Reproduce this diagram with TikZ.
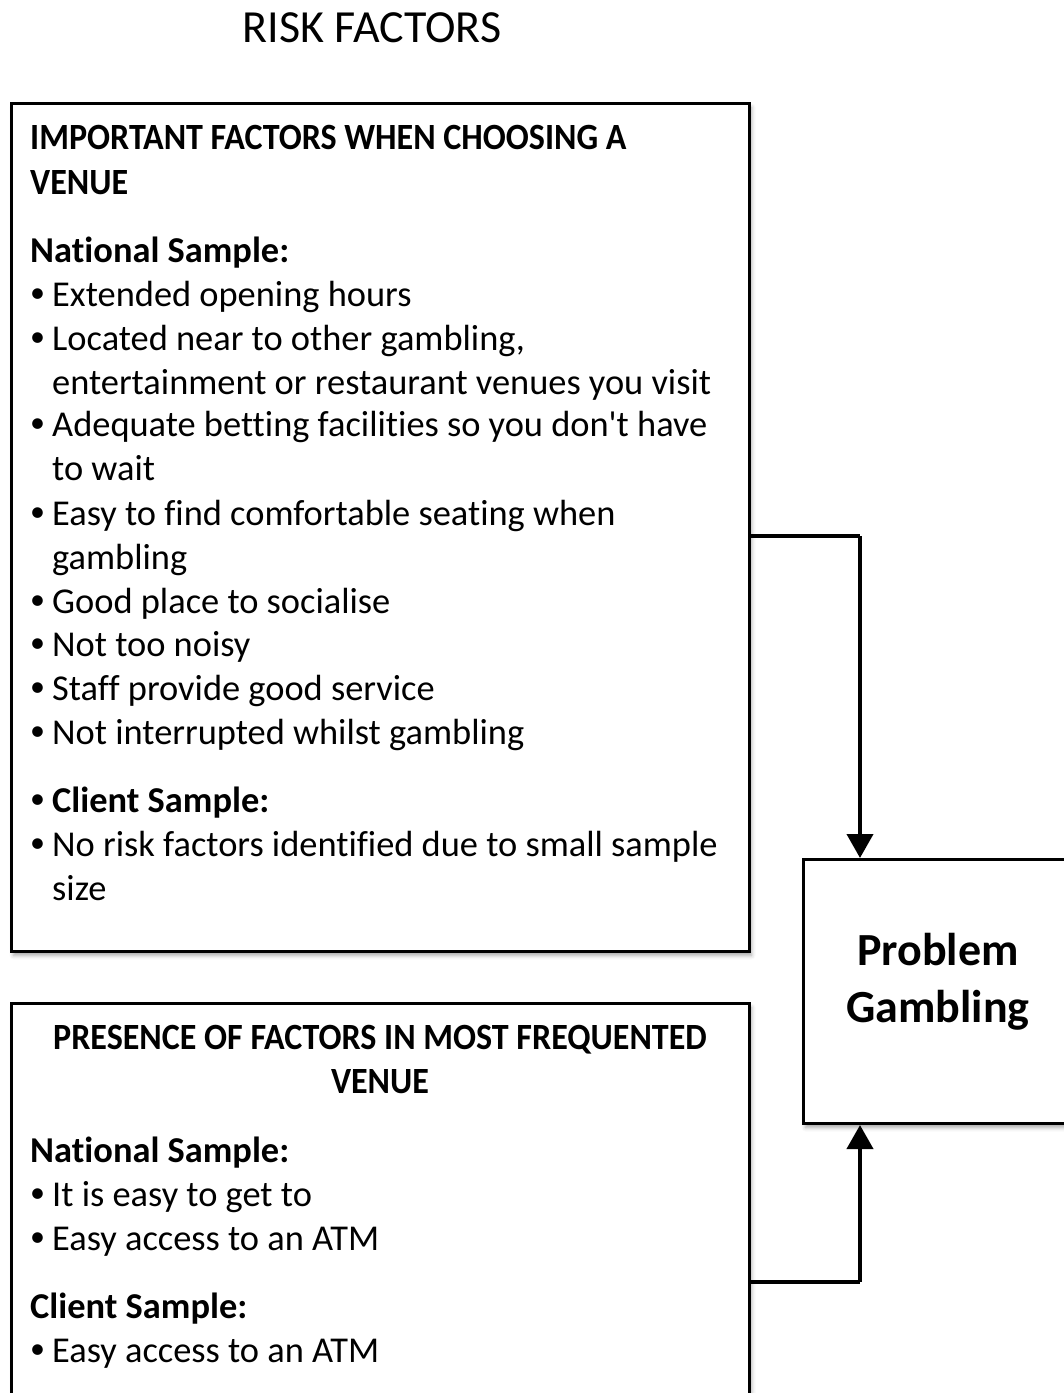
\documentclass[tikz,border=0pt]{standalone}
\usepackage{fontspec}
\newfontfamily\carl{Carlito}[Ligatures=NoCommon]
\usetikzlibrary{arrows.meta,shadows.blur}
\begin{document}
\begin{tikzpicture}[x=1pt,y=-1pt,
  box/.style={draw=black,line width=3pt,fill=white,rectangle,inner sep=0pt,
    blur shadow={shadow xshift=2pt,shadow yshift=-4pt,shadow blur radius=4pt,shadow opacity=35}},
  body/.style={anchor=mid west,inner sep=0pt,yshift=-10pt,font=\carl\fontsize{36.4}{44}\selectfont},
  bodyb/.style={body,font=\carl\fontsize{36.4}{44}\selectfont\bfseries},
  head/.style={inner sep=0pt,yshift=-10pt,xscale=0.92,font=\carl\fontsize{37}{44}\selectfont\bfseries},
  bul/.style={anchor=mid west,inner sep=0pt,yshift=-6pt,font=\carl\fontsize{30}{44}\selectfont},
  arr/.style={line width=4pt,-{Triangle[width=26pt,length=24pt]}},
  ln/.style={line width=4pt}
]
\useasboundingbox (0,0) rectangle (1064,1393);
\clip (0,0) rectangle (1064,1393);

\node[inner sep=0pt,font=\carl\fontsize{46}{54}\selectfont] (title) at (372,28) {RISK FACTORS};

% boxes
\node[box,anchor=north west,minimum width=738pt,minimum height=848pt] (b1) at (10,102) {};
\node[box,anchor=north west,minimum width=738pt,minimum height=440pt] (b2) at (10,1002) {};
\node[box,anchor=north west,minimum width=272pt,minimum height=264pt] (pg) at (802,858) {};
\node[inner sep=0pt,align=center,font=\carl\fontsize{46}{57}\selectfont\bfseries] (pgt) at (938,982) {Problem\\Gambling};

% box 1 text
\node[head,anchor=mid west] (h1a) at (30,137) {IMPORTANT FACTORS WHEN CHOOSING A};
\node[head,anchor=mid west] (h1b) at (30,182) {VENUE};
\node[bodyb] (n1) at (30,250) {National Sample:};
\node[bul] (d1) at (30,294) {•}; \node[body] (t1) at (52,294) {Extended opening hours};
\node[bul] (d2) at (30,338) {•}; \node[body] (t2) at (52,338) {Located near to other gambling,};
\node[body] (t2b) at (52,382) {entertainment or restaurant venues you visit};
\node[bul] (d3) at (30,424) {•}; \node[body] (t3) at (52,424) {Adequate betting facilities so you don't have};
\node[body] (t3b) at (52,468) {to wait};
\node[bul] (d4) at (30,513) {•}; \node[body] (t4) at (52,513) {Easy to find comfortable seating when};
\node[body] (t4b) at (52,557) {gambling};
\node[bul] (d5) at (30,601) {•}; \node[body] (t5) at (52,601) {Good place to socialise};
\node[bul] (d6) at (30,644) {•}; \node[body] (t6) at (52,644) {Not too noisy};
\node[bul] (d7) at (30,688) {•}; \node[body] (t7) at (52,688) {Staff provide good service};
\node[bul] (d8) at (30,732) {•}; \node[body] (t8) at (52,732) {Not interrupted whilst gambling};
\node[bul] (d9) at (30,800) {•}; \node[bodyb] (t9) at (52,800) {Client Sample:};
\node[bul] (d10) at (30,844) {•}; \node[body] (t10) at (52,844) {No risk factors identified due to small sample};
\node[body] (t10b) at (52,888) {size};

% box 2 text
\node[head,anchor=mid] (h2a) at (380,1037) {PRESENCE OF FACTORS IN MOST FREQUENTED};
\node[head,anchor=mid] (h2b) at (380,1081) {VENUE};
\node[bodyb] (n2) at (30,1150) {National Sample:};
\node[bul] (e1) at (30,1194) {•}; \node[body] (s1) at (52,1194) {It is easy to get to};
\node[bul] (e2) at (30,1238) {•}; \node[body] (s2) at (52,1238) {Easy access to an ATM};
\node[bodyb] (c2) at (30,1306) {Client Sample:};
\node[bul] (e3) at (30,1350) {•}; \node[body] (s3) at (52,1350) {Easy access to an ATM};

% connectors
\coordinate (k1) at (860,536);
\coordinate (k2) at (860,1282);
\draw[ln] (b1.east |- k1) -- (k1);
\draw[arr] (k1) -- (pg.north -| k1);
\draw[ln] (b2.east |- k2) -- (k2);
\draw[arr] (k2) -- (pg.south -| k2);
\end{tikzpicture}
\end{document}
